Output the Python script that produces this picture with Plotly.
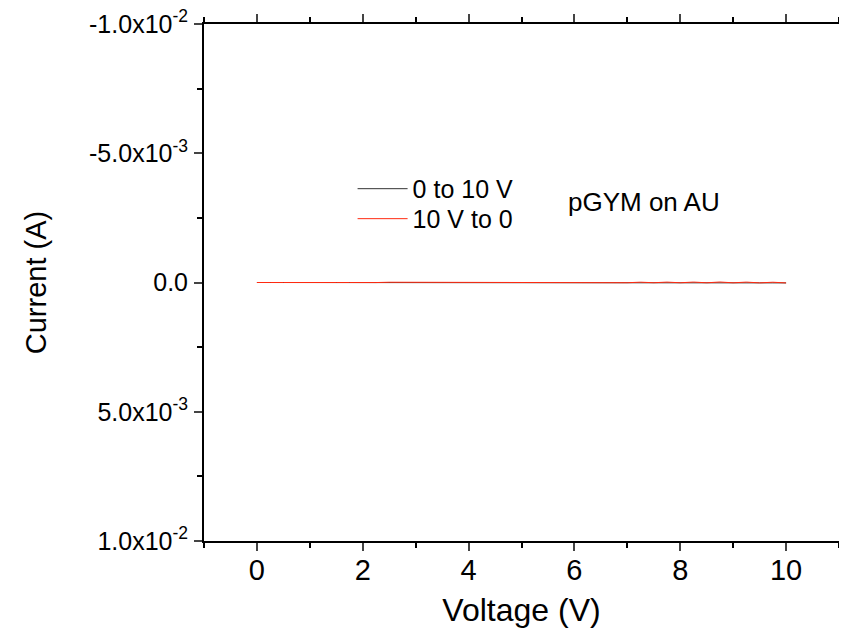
import plotly.graph_objects as go

# Data (currents are tiny compared to the axis range)
voltage_up = [0.0, 0.25, 0.5, 0.75, 1.0, 1.25, 1.5, 1.75, 2.0, 2.25, 2.5, 2.75, 3.0, 3.25, 3.5, 3.75,
              4.0, 4.25, 4.5, 4.75, 5.0, 5.25, 5.5, 5.75, 6.0, 6.25, 6.5, 6.75, 7.0, 7.25, 7.5, 7.75,
              8.0, 8.25, 8.5, 8.75, 9.0, 9.25, 9.5, 9.75, 10.0]
current_up = [0.0, 1e-6, 2e-6, 2e-6, 3e-6, 3e-6, 4e-6, 4e-6, 5e-6, 5e-6, 6e-6, 6e-6, 6e-6, 7e-6, 7e-6, 7e-6,
              8e-6, 8e-6, 8e-6, 9e-6, 9e-6, 9e-6, 1.0e-5, 1.0e-5, 1.0e-5, 1.1e-5, 1.1e-5, 1.1e-5, 1.2e-5, 1.2e-5,
              1.2e-5, 1.3e-5, 1.3e-5, 1.3e-5, 1.4e-5, 1.4e-5, 1.4e-5, 1.5e-5, 1.5e-5, 1.5e-5, 1.6e-5]
voltage_down = list(reversed(voltage_up))
current_down = [1.6e-5, -1.0e-5, 1.4e-5, -1.5e-5, 1.2e-5, -1.8e-5, 1.1e-5, -1.6e-5, 1.0e-5, -1.5e-5, 9e-6,
                -1.2e-5, 8e-6, 7e-6, -8e-6, 6e-6, -1.0e-5, 5e-6, 5e-6, -1.2e-5, 4e-6, -1.0e-5, 4e-6, -1.2e-5,
                3e-6, -1.0e-5, 3e-6, -8e-6, 2e-6, 2e-6, -1.0e-5, 2e-6, -8e-6, 1e-6, 1e-6, -6e-6, 1e-6,
                1e-6, 0.0, 0.0, 0.0]

y_tickvals = [-1.0e-2, -5.0e-3, 0.0, 5.0e-3, 1.0e-2]
y_ticktext = ["-1.0x10<sup>-2</sup>", "-5.0x10<sup>-3</sup>", "0.0<sup>\u200b</sup>",
              "5.0x10<sup>-3</sup>", "1.0x10<sup>-2</sup>"]
x_tickvals = [0, 2, 4, 6, 8, 10]

FONT = "Liberation Sans"

fig = go.Figure()
fig.add_trace(go.Scatter(x=voltage_up, y=current_up, mode="lines", name="0 to 10 V",
                         line=dict(color="#333333", width=1), legend="legend"))
fig.add_trace(go.Scatter(x=voltage_down, y=current_down, mode="lines", name="10 V to 0",
                         line=dict(color="#ff2a10", width=1), legend="legend2"))

fig.add_annotation(x=0.57, y=0.656, xref="paper", yref="paper", text="pGYM on AU",
                   showarrow=False, xanchor="left", yanchor="middle",
                   font=dict(family=FONT, size=26, color="black"))

leg_common = dict(xanchor="left", yanchor="middle", bgcolor="rgba(0,0,0,0)",
                  font=dict(family=FONT, size=25, color="black"), itemwidth=50)

fig.update_layout(
    width=839, height=627,
    margin=dict(l=196, r=8, t=16, b=94),
    paper_bgcolor="white", plot_bgcolor="white",
    font=dict(family=FONT, color="black"),
    legend=dict(x=0.234, y=0.681, **leg_common),
    legend2=dict(x=0.234, y=0.623, **leg_common),
    showlegend=True,
)
fig.update_xaxes(
    range=[-1, 11], tickvals=x_tickvals, ticks="outside", ticklen=8, tickwidth=2,
    showline=True, linewidth=2, linecolor="black", mirror="ticks", showgrid=False, zeroline=False,
    tickfont=dict(family=FONT, size=29), automargin=False, ticklabelstandoff=-6,
    ticklabeloverflow="allow",
    minor=dict(dtick=1, tick0=1, ticks="outside", ticklen=5, tickwidth=2, tickcolor="black"),
    title=dict(text="Voltage (V)", font=dict(family=FONT, size=32), standoff=14),
)
fig.update_yaxes(
    range=[1.0e-2, -1.0e-2], tickvals=y_tickvals, ticktext=y_ticktext, ticks="outside",
    ticklen=8, tickwidth=2, showline=True, linewidth=2, linecolor="black", mirror="ticks",
    showgrid=False, zeroline=False, tickfont=dict(family=FONT, size=25), automargin=False,
    ticklabelstandoff=1, ticklabeloverflow="allow",
    minor=dict(dtick=2.5e-3, tick0=0, ticks="outside", ticklen=5, tickwidth=2, tickcolor="black"),
    title=dict(text="Current (A)", font=dict(family=FONT, size=29), standoff=34),
)

# let the top tick label's superscript draw past the svg's top edge (into the page margin)
post_js = ("document.querySelectorAll('svg.main-svg').forEach(function(s){s.style.overflow='visible';});"
           "document.querySelectorAll('.plot-container, .svg-container').forEach(function(d){d.style.overflow='visible';});")

fig.write_html("out.html", post_script=post_js)
